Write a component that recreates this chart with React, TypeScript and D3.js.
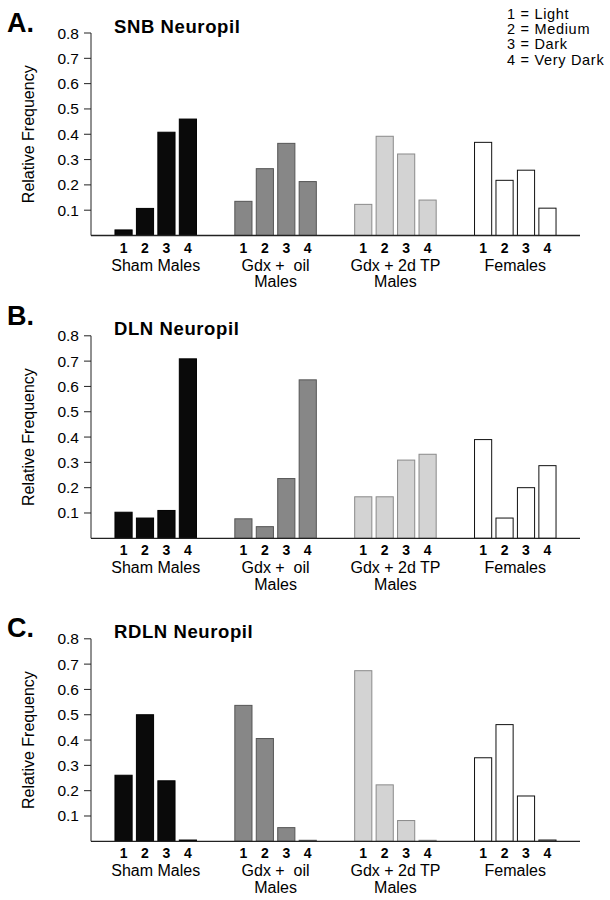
import React from "react";
import * as d3 from "d3";

const categories = ["1", "2", "3", "4"];
const groups = ["Sham Males", "Gdx + oil Males", "Gdx + 2d TP Males", "Females"];
const groupLabelLines = [["Sham Males"], ["Gdx +  oil", "Males"], ["Gdx + 2d TP", "Males"], ["Females"]];
const yTicks = [0.1, 0.2, 0.3, 0.4, 0.5, 0.6, 0.7, 0.8];
const legendLines = ["1 = Light", "2 = Medium", "3 = Dark", "4 = Very Dark"];

const panelLetters = ["A.", "B.", "C."];
const panelTitles = ["SNB Neuropil", "DLN Neuropil", "RDLN Neuropil"];

// values per group (Sham, Gdx+oil, Gdx+2dTP, Females), categories 1..4
const snbSham = [0.022, 0.107, 0.408, 0.46];
const snbOil = [0.135, 0.264, 0.364, 0.213];
const snbTP = [0.123, 0.392, 0.322, 0.14];
const snbFem = [0.368, 0.218, 0.258, 0.108];

const dlnSham = [0.103, 0.08, 0.11, 0.709];
const dlnOil = [0.077, 0.046, 0.236, 0.626];
const dlnTP = [0.164, 0.164, 0.309, 0.332];
const dlnFem = [0.39, 0.08, 0.2, 0.287];

const rdlnSham = [0.261, 0.5, 0.239, 0.005];
const rdlnOil = [0.537, 0.406, 0.054, 0.004];
const rdlnTP = [0.674, 0.223, 0.082, 0.004];
const rdlnFem = [0.33, 0.461, 0.179, 0.005];

const panelData = [
  [snbSham, snbOil, snbTP, snbFem],
  [dlnSham, dlnOil, dlnTP, dlnFem],
  [rdlnSham, rdlnOil, rdlnTP, rdlnFem],
];

const fills = ["#0a0a0a", "#878787", "#d3d3d3", "#ffffff"];
const strokes = ["#000000", "#555555", "#8a8a8a", "#111111"];

// layout
const AXIS_X = 91;
const AXIS_RIGHT = 580;
const baselines = [235.5, 538.3, 841.3];
const PLOT_H = 202.5;
const letterOffsets = [-1, -10.8, -2];
const titleOffsets = [0, -1, -1];

const FONT = "'Liberation Sans', Arial, Helvetica, sans-serif";

export default function App() {
  const xOuter = d3
    .scaleBand<string>()
    .domain(groups)
    .range([AXIS_X, AXIS_RIGHT])
    .paddingInner(0.32)
    .paddingOuter(0.2);
  const xInner = d3
    .scaleBand<string>()
    .domain(categories)
    .range([0, xOuter.bandwidth()])
    .paddingInner(0.2)
    .paddingOuter(0);

  return (
    <svg width={610} height={900} style={{ display: "block", position: "absolute", left: 0, top: 0, background: "#fff" }}>
      <rect x={0} y={0} width={610} height={900} fill="#fff" />
      {/* legend */}
      <g fontFamily={FONT} fontSize={14.5} fill="#000" letterSpacing={0.7}>
        {legendLines.map((t, i) => (
          <text key={t} x={507} y={19 + i * 15.2}>
            {t}
          </text>
        ))}
      </g>
      {panelData.map((series, p) => {
        const base = baselines[p];
        const top = base - PLOT_H;
        const y = d3.scaleLinear().domain([0, 0.8]).range([base, top]);
        return (
          <g key={p} fontFamily={FONT}>
            <text x={7} y={top + letterOffsets[p]} fontSize={27} fontWeight={700}>
              {panelLetters[p]}
            </text>
            <text x={114} y={top + titleOffsets[p]} fontSize={18.5} fontWeight={700} letterSpacing={0.6}>
              {panelTitles[p]}
            </text>
            <text
              transform={`translate(34,${(top + base) / 2}) rotate(-90)`}
              textAnchor="middle"
              fontSize={16}
            >
              Relative Frequency
            </text>
            {/* y axis */}
            <line x1={AXIS_X} x2={AXIS_X} y1={top} y2={base} stroke="#222" strokeWidth={1} />
            {yTicks.map((t) => (
              <g key={t}>
                <line x1={AXIS_X - 7} x2={AXIS_X} y1={y(t)} y2={y(t)} stroke="#222" strokeWidth={1} />
                <text x={AXIS_X - 12} y={y(t) + 5.5} textAnchor="end" fontSize={15.5}>
                  {d3.format(".1f")(t)}
                </text>
              </g>
            ))}
            {/* bars */}
            {groups.map((g, gi) => (
              <g key={g} transform={`translate(${xOuter(g)},0)`}>
                {categories.map((c, ci) => {
                  const v = series[gi][ci];
                  return (
                    <rect
                      key={c}
                      x={xInner(c)}
                      y={y(v)}
                      width={xInner.bandwidth()}
                      height={base - y(v)}
                      fill={fills[gi]}
                      stroke={strokes[gi]}
                      strokeWidth={1}
                    />
                  );
                })}
                {categories.map((c) => (
                  <text
                    key={"l" + c}
                    x={(xInner(c) as number) + xInner.bandwidth() / 2}
                    y={base + 17}
                    textAnchor="middle"
                    fontSize={14}
                    fontWeight={700}
                  >
                    {c}
                  </text>
                ))}
                {groupLabelLines[gi].map((ln, li) => (
                  <text
                    key={"g" + li}
                    x={xOuter.bandwidth() / 2}
                    y={base + 35 + li * 16.5}
                    textAnchor="middle"
                    fontSize={16}
                    style={{ whiteSpace: "pre" }}
                  >
                    {ln}
                  </text>
                ))}
              </g>
            ))}
            {/* x axis */}
            <line x1={AXIS_X} x2={AXIS_RIGHT} y1={base} y2={base} stroke="#222" strokeWidth={1.3} />
          </g>
        );
      })}
    </svg>
  );
}
